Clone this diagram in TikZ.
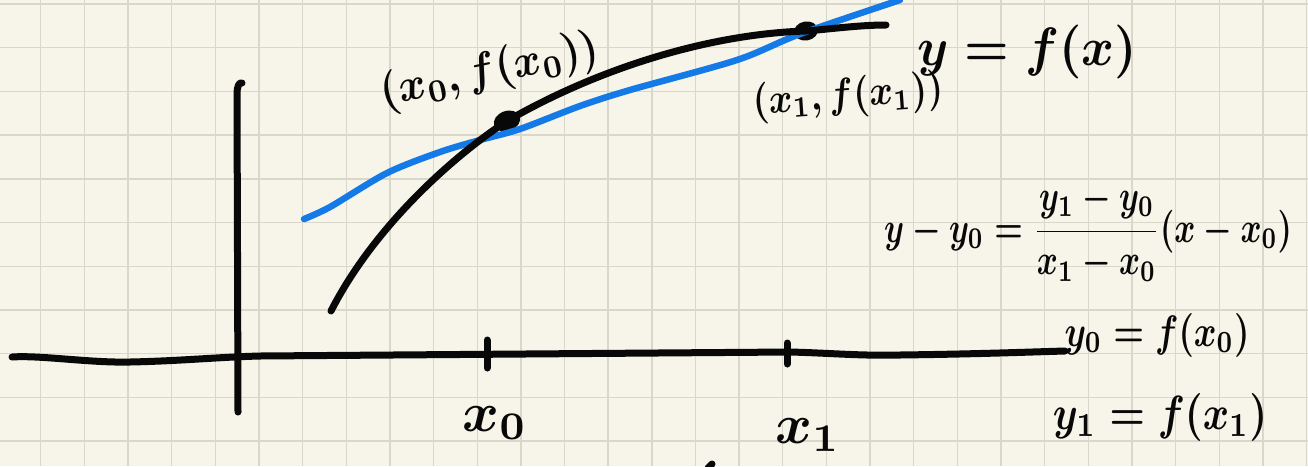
\documentclass[tikz,border=0pt]{standalone}
\usepackage{amsmath}
\usepackage{graphicx}
\usetikzlibrary{shapes.geometric}
\definecolor{paper}{RGB}{247,245,233}
\definecolor{gridc}{RGB}{216,215,202}
\definecolor{pen}{RGB}{8,8,8}
\definecolor{penblue}{RGB}{20,122,232}
\newcommand{\hwtext}[3]{\scalebox{#1}[#2]{\boldmath$#3$}}
\tikzset{
  gridline/.style={gridc, line width=1.4pt},
  ink/.style={pen, line width=7pt, line cap=round, line join=round},
  blueink/.style={penblue, line width=6.5pt, line cap=round, line join=round},
  lbl/.style={inner sep=0pt, text=pen},
  dotn/.style={ellipse, fill=pen, inner sep=0pt, minimum width=27pt, minimum height=20pt},
}
\begin{document}
\begin{tikzpicture}[x=1pt,y=-1pt]
\fill[paper] (0,0) rectangle (1308,466);
\useasboundingbox (0,0) rectangle (1308,466);
% grid
\foreach \i in {0,...,29} \draw[gridline] ({40.7+43.65*\i},0) -- ({40.7+43.65*\i},466);
\foreach \j in {0,...,10} \draw[gridline] (0,{4+43.7*\j}) -- (1308,{4+43.7*\j});

% axes
\coordinate (hx0) at (12,357);
\coordinate (hx1) at (1065,351);
\coordinate (vy0) at (242,83);
\coordinate (vy1) at (238,412);
\draw[ink] (hx0) .. controls (40,355) and (90,363) .. (130,362)
  .. controls (180,361) and (220,357) .. (260,356) -- (790,352)
  .. controls (830,353) and (860,356) .. (900,355) .. controls (980,354) and (1030,352) .. (hx1);
\draw[ink] (vy0) .. controls (239,82) and (237,86) .. (237,95) -- (vy1);

% ticks
\coordinate (t0a) at (487,340);
\coordinate (t0b) at (487,368);
\coordinate (t1a) at (787,343);
\coordinate (t1b) at (787,364);
\draw[ink] (t0a) -- (t0b);
\draw[ink] (t1a) -- (t1b);

% points
\node[dotn, rotate=20] (p0) at (507,121) {};
\node[dotn, minimum width=24pt, minimum height=19pt, rotate=10] (p1) at (806,31) {};

% blue secant
\coordinate (bl0) at (304,219);
\coordinate (bl1) at (900,0);
\draw[blueink] plot[smooth, tension=0.5] coordinates {(bl0) (330,207) (387,173) (440,152) (480,140) (520,129) (580,106) (630,90) (737,60) (800,34) (bl1)};

% curve f
\coordinate (cs) at (331,311);
\coordinate (ce) at (886,25);
\draw[ink] (cs) .. controls (375,225) and (455,155) .. (p0.center)
  .. controls (597,69) and (708,34) .. (p1.center)
  .. controls (830,29) and (860,25) .. (ce);

% small stroke at bottom edge
\coordinate (m0) at (708,468);
\coordinate (m1) at (712,464);
\draw[ink] (m0) -- (m1);

% labels
\node[lbl] (lx0) at (495,423) {\hwtext{5.6}{5.6}{x_0}};
\node[lbl] (lx1) at (808,435) {\hwtext{5.6}{5.6}{x_1}};
\node[lbl, rotate=12] (lp0) at (490,72) {\hwtext{4.2}{4.6}{(x_0,f(x_0))}};
\node[lbl, rotate=4] (lp1) at (848,97) {\hwtext{3.6}{4.2}{(x_1,f(x_1))}};
\node[lbl] (lf) at (1027,52) {\hwtext{5.0}{5.4}{y=f(x)}};
\node[lbl] (leq) at (1088,232) {\hwtext{3.2}{4.3}{y-y_0=\dfrac{y_1-y_0}{x_1-x_0}(x-x_0)}};
\node[lbl] (ly0) at (1157,335) {\hwtext{3.45}{4.4}{y_0=f(x_0)}};
\node[lbl] (ly1) at (1160,417) {\hwtext{4.0}{4.8}{y_1=f(x_1)}};
\end{tikzpicture}
\end{document}
